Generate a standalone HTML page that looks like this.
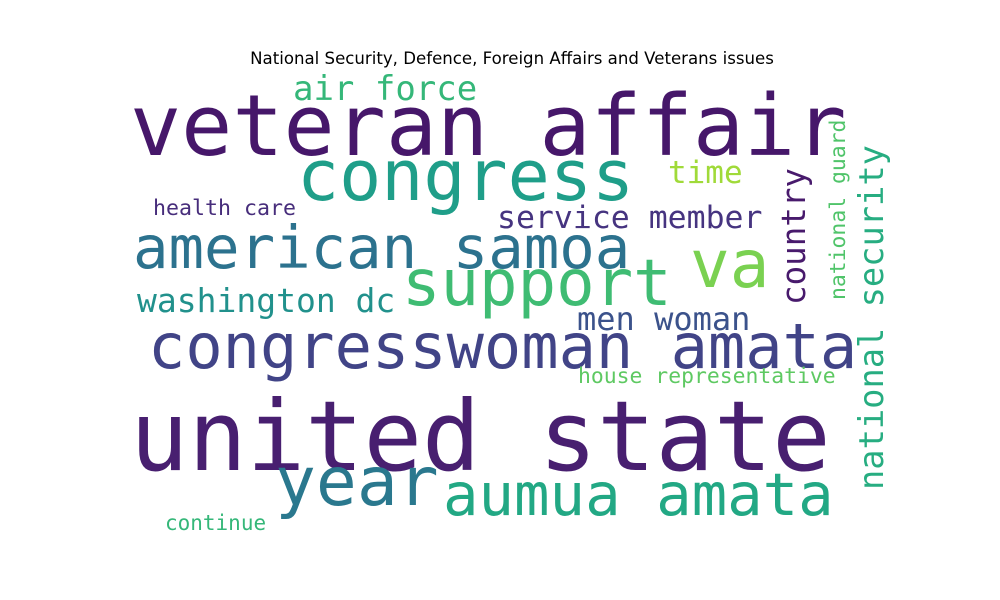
<!DOCTYPE html>
<html><head><meta charset="utf-8"><style>
html,body{margin:0;padding:0;background:#fff;}
svg{display:block;}
text.w{font-family:"DejaVu Sans Mono","Liberation Mono",monospace;}
</style></head><body>
<svg id="chart" width="1000" height="600" xmlns="http://www.w3.org/2000/svg">
<text x="512" y="64" text-anchor="middle" font-family="DejaVu Sans, Liberation Sans, sans-serif" font-size="16.6" fill="#000">National Security, Defence, Foreign Affairs and Veterans issues</text>
<g id="words"></g>
</svg>
<script>
const words = ["veteran affair","congress","american samoa","support","va","congresswoman amata","united state","year","aumua amata","air force","time","service member","health care","washington dc","men woman","house representative","continue","country","national security","national guard"];
const sizes = [85,70,59,64,66,62,97,68,59,34,31,31.5,21.6,33,32,21.4,21,32.5,33.7,21.4];
const colors = ["#46176a","#1f9e89","#2c728e","#3fbc73","#7ad151","#414487","#481f70","#2a788e","#22a884","#35b779","#a0da39","#463480","#472d7b","#21918c","#3b528b","#5ec962","#35b779","#481a6c","#27ad81","#50c46a"];
const anchorX = [130,297,133,402,690,148,130,275,443,293,668,497,153,137,577,578,165,805,883,845];
const anchorY = [155,200,268,305,287,368,470,505,515,100,183,228,215,312,330,383,530,305,490,300];
const vertical = [0,0,0,0,0,0,0,0,0,0,0,0,0,0,0,0,0,1,1,1];
const g = document.getElementById('words');
const NS = "http://www.w3.org/2000/svg";
words.forEach((w,i)=>{
  const t = document.createElementNS(NS,'text');
  t.setAttribute('class','w');
  
  
  t.setAttribute('font-size',sizes[i]);
  t.setAttribute('fill',colors[i]);
  t.setAttribute('textLength', (sizes[i]*0.602*w.length).toFixed(1));
  t.setAttribute('lengthAdjust','spacingAndGlyphs');
  if(vertical[i]){
    t.setAttribute('transform','translate('+anchorX[i]+','+anchorY[i]+') rotate(-90)');
  } else {
    t.setAttribute('x',anchorX[i]);
    t.setAttribute('y',anchorY[i]);
  }
  t.textContent = w;
  g.appendChild(t);
});
</script>
</body></html>
